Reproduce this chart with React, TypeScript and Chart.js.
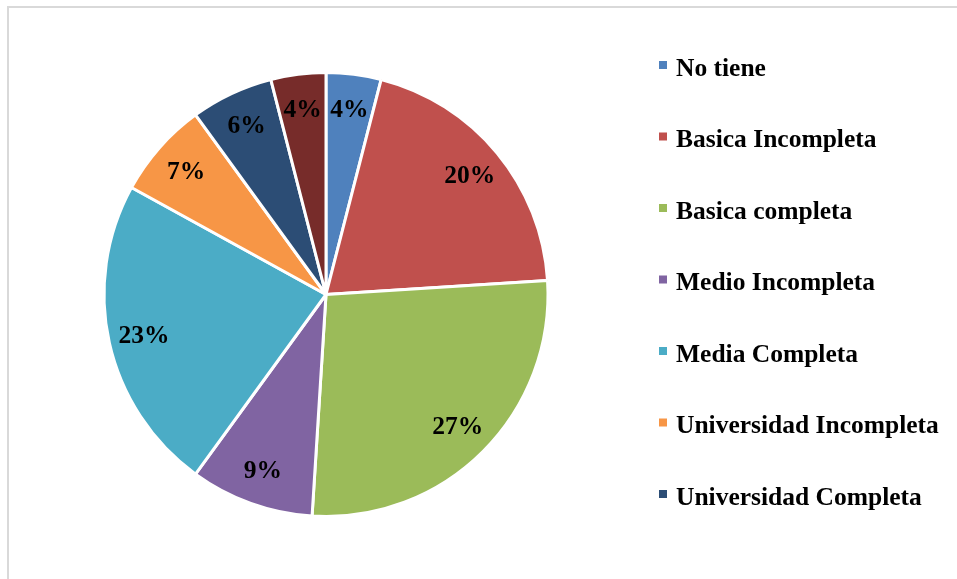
import React, { useEffect, useRef } from "react";
import { Chart, registerables } from "chart.js";

Chart.register(...registerables);

const categories = [
  "No tiene",
  "Basica Incompleta",
  "Basica completa",
  "Medio Incompleta",
  "Media Completa",
  "Universidad Incompleta",
  "Universidad Completa",
  "Otro",
];
const percentages = [4, 20, 27, 9, 23, 7, 6, 4];
const sliceColors = [
  "#4F81BD",
  "#C0504D",
  "#9BBB59",
  "#8064A2",
  "#4BACC6",
  "#F79646",
  "#2C4D75",
  "#772C2A",
];
const legendShown = 7;

const FONT = "bold 25.5px 'Liberation Serif', serif";

const labelPlugin = {
  id: "sliceLabels",
  afterDatasetsDraw(chart: any) {
    const ctx = chart.ctx;
    const meta = chart.getDatasetMeta(0);
    ctx.save();
    ctx.font = FONT;
    ctx.fillStyle = "#000";
    ctx.textAlign = "center";
    ctx.textBaseline = "middle";
    meta.data.forEach((arc: any, i: number) => {
      const p = arc.getProps(["x", "y", "startAngle", "endAngle", "outerRadius"], true);
      const mid = (p.startAngle + p.endAngle) / 2;
      const r = p.outerRadius * 0.84;
      ctx.fillText(percentages[i] + "%", p.x + Math.cos(mid) * r, p.y + Math.sin(mid) * r + 1);
    });
    ctx.restore();
  },
};

const legendPlugin = {
  id: "sideLegend",
  afterDraw(chart: any) {
    const ctx = chart.ctx;
    const ds = chart.data.datasets[0];
    ctx.save();
    ctx.font = FONT;
    ctx.textAlign = "left";
    ctx.textBaseline = "middle";
    for (let i = 0; i < legendShown; i++) {
      const y = 66 + i * 71.5;
      ctx.fillStyle = ds.backgroundColor[i];
      ctx.fillRect(659, y - 5, 8, 8);
      ctx.fillStyle = "#000";
      ctx.fillText(chart.data.labels[i], 676, y + 3);
    }
    ctx.restore();
  },
};

export default function App() {
  const ref = useRef<HTMLCanvasElement>(null);
  useEffect(() => {
    if (!ref.current) return;
    const chart = new Chart(ref.current, {
      type: "pie",
      data: {
        labels: categories,
        datasets: [
          {
            data: percentages,
            backgroundColor: sliceColors,
            borderColor: "#ffffff",
            borderWidth: 3,
          },
        ],
      },
      options: {
        animation: false,
        responsive: false,
        maintainAspectRatio: false,
        devicePixelRatio: 1,
        layout: { padding: { left: 102, top: 71, right: 407, bottom: 61 } },
        plugins: {
          legend: { display: false },
          tooltip: { enabled: false },
        },
      },
      plugins: [labelPlugin, legendPlugin],
    });
    return () => chart.destroy();
  }, []);
  return (
    <div
      style={{
        position: "fixed",
        left: 0,
        top: 0,
        width: 957,
        height: 579,
        overflow: "hidden",
        background: "#fff",
      }}
    >
      <div
        style={{
          position: "absolute",
          left: 7,
          top: 6,
          width: 1000,
          height: 1000,
          border: "2px solid #d9d9d9",
        }}
      />
      <canvas
        ref={ref}
        width={957}
        height={579}
        style={{ position: "absolute", left: 0, top: 0, width: 957, height: 579 }}
      />
    </div>
  );
}
